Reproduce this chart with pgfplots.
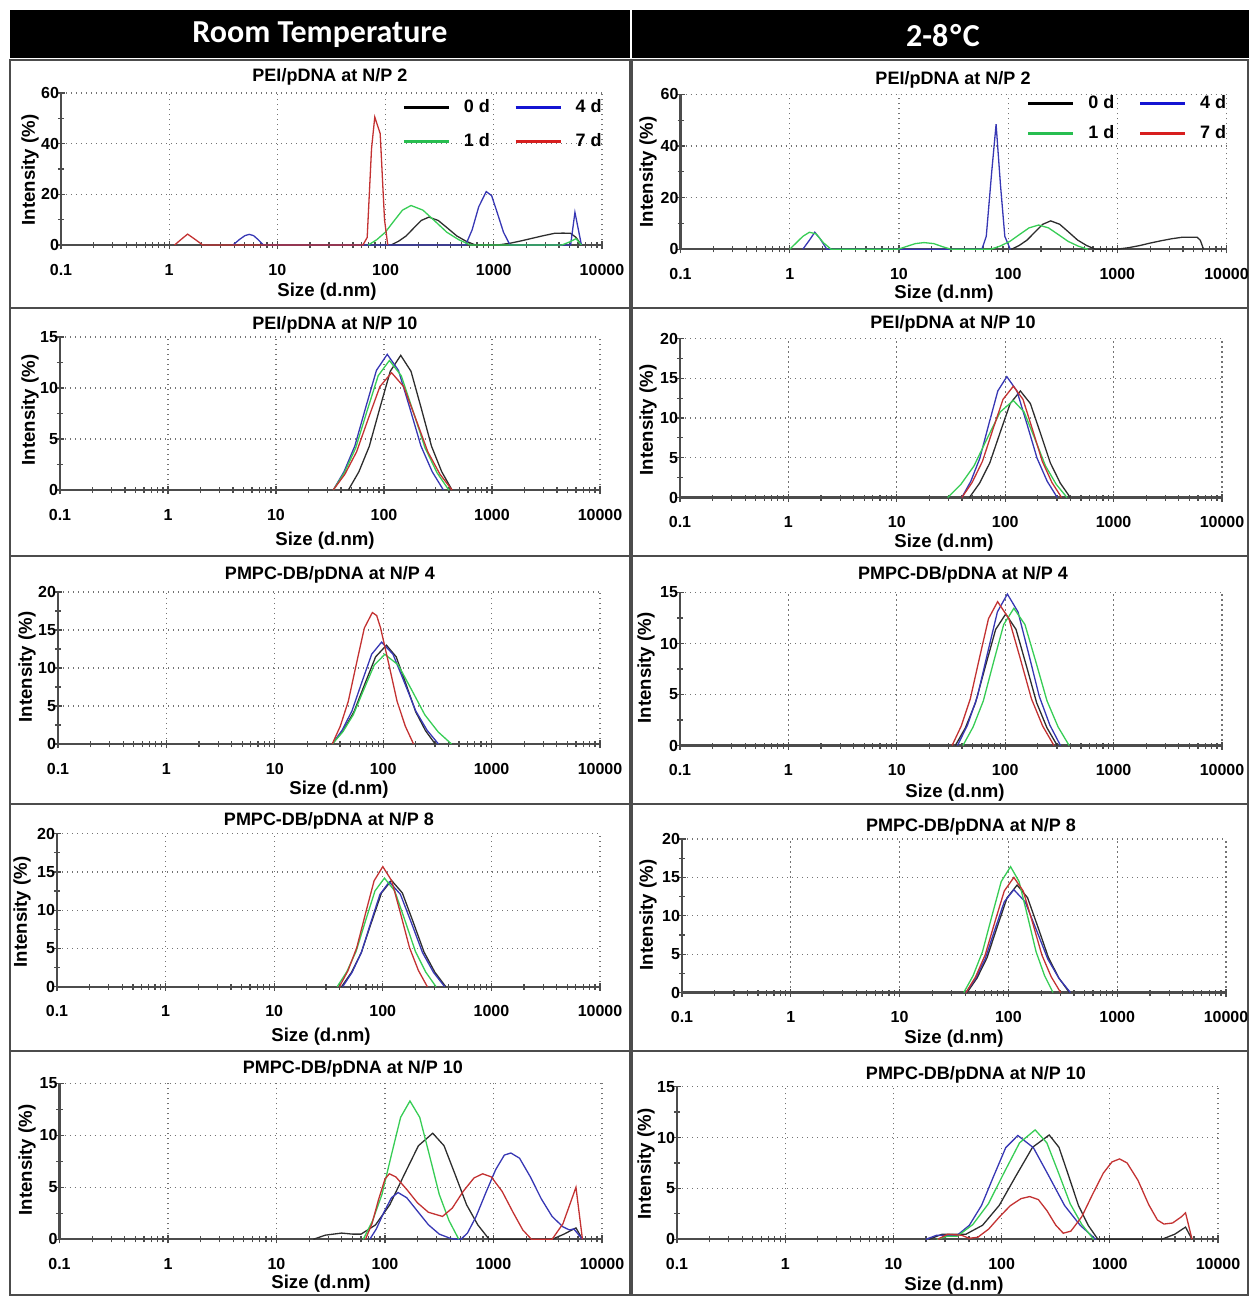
\documentclass[border=0pt]{standalone}
\usepackage{fontspec}
\setmainfont{Liberation Sans}
\newfontfamily\hdrfont{Carlito}
\usepackage{pgfplots}
\pgfplotsset{compat=1.18}
\definecolor{cK}{RGB}{45,45,45}
\definecolor{cB}{RGB}{55,55,180}
\definecolor{cG}{RGB}{55,205,85}
\definecolor{cR}{RGB}{195,50,50}
\definecolor{lB}{RGB}{20,20,210}
\definecolor{lG}{RGB}{40,190,80}
\definecolor{lR}{RGB}{215,30,30}
\pgfplotsset{
 dls/.style={
  scale only axis, anchor=south west,
  axis lines*=left,
  xmin=-1, xmax=4, ymin=0,
  xtick={-1,0,1,2,3,4},
  xticklabels={0.1,1,10,100,1000,10000},
  minor xtick={-0.699,-0.523,-0.398,-0.301,-0.222,-0.155,-0.097,-0.046,
               0.301,0.477,0.602,0.699,0.778,0.845,0.903,0.954,
               1.301,1.477,1.602,1.699,1.778,1.845,1.903,1.954,
               2.301,2.477,2.602,2.699,2.778,2.845,2.903,2.954,
               3.301,3.477,3.602,3.699,3.778,3.845,3.903,3.954},
  minor y tick num=1,
  xmajorgrids, ymajorgrids,
  major grid style={black!55, line width=0.6pt, dash pattern=on 0.6pt off 1.9pt},
  tick align=center,
  major tick length=4pt, minor tick length=3pt,
  axis line style={black!70, line width=1.1pt},
  tick style={black!70, line width=0.6pt},
  ticklabel style={font=\fontsize{8}{9}\selectfont\bfseries},
  /pgf/number format/assume math mode=true,
  xticklabel style={yshift=-4pt},
  yticklabel style={xshift=4.5pt},
  every axis plot/.append style={line width=0.65pt, mark=none},
 },
 dlsleg/.style={
  legend columns=2,
  legend cell align=left,
  legend style={draw=none, fill=none, at={(1,1)}, anchor=north east, xshift=3pt,
    font=\fontsize{9}{10}\selectfont\bfseries, row sep=5pt, inner sep=1pt,
    /tikz/every even column/.append style={column sep=10pt}},
  legend image code/.code={\draw[##1, line width=1.6pt] (0pt,0pt) -- (22.5pt,0pt);
     \path[draw=none] (0pt,0pt) -- (28pt,0pt);},
 },
}
\begin{document}
\begin{tikzpicture}
\useasboundingbox (0pt,0pt) rectangle (624.5pt,-648pt);
% headers
\fill[black] (5pt,-5pt) rectangle (315pt,-29pt);
\fill[black] (316pt,-5pt) rectangle (624.5pt,-29pt);
\node[white, font=\hdrfont\bfseries\fontsize{16}{18}\selectfont] at (160pt,-17.5pt) {Room Temperature};
\node[white, font=\hdrfont\bfseries\fontsize{16}{18}\selectfont] at (471.5pt,-18pt) {2-8\kern1pt°\kern0.8pt C};
% panel frames
\foreach \a/\b in {-30/-154,-154/-278,-278/-402,-402/-525.5,-525.5/-647.5}{
  \draw[black!70, line width=1pt] (5pt,\a pt) rectangle (315pt,\b pt);
  \draw[black!70, line width=1pt] (316pt,\a pt) rectangle (624pt,\b pt);
}

% ===== L1 =====
\begin{axis}[dls, dlsleg, at={(30.5pt,-122.5pt)}, width=270.5pt, height=76pt,
  ymax=60, ytick={0,20,40,60}]
\addlegendimage{black}\addlegendentry{0 d}
\addlegendimage{lB}\addlegendentry{4 d}
\addlegendimage{lG}\addlegendentry{1 d}
\addlegendimage{lR}\addlegendentry{7 d}
\addplot[cK] coordinates {(2.05,0)(2.12,1.49)(2.19,3.58)(2.26,6.68)(2.33,9.70)(2.40,11.0)(2.486,9.70)(2.572,6.68)(2.658,3.58)(2.744,1.49)(2.83,0)(3.04,0)(3.15,0.7)(3.25,1.6)(3.35,2.6)(3.45,3.6)(3.56,4.6)(3.64,4.7)(3.71,4.6)(3.76,3.0)(3.81,0)};
\addplot[cB] coordinates {(0.59,0)(0.65,2.2)(0.70,3.7)(0.74,4.2)(0.78,3.7)(0.82,2.2)(0.87,0)(2.74,0)(2.80,6)(2.86,15)(2.93,21.1)(2.98,19.5)(3.03,13)(3.09,5)(3.15,0)(3.71,0)(3.75,12.9)(3.81,0)};
\addplot[cG] coordinates {(1.84,0)(1.919,2.11)(1.998,5.07)(2.077,9.47)(2.156,13.76)(2.235,15.6)(2.345,13.76)(2.455,9.47)(2.565,5.07)(2.675,2.11)(2.785,0)(3.63,0)(3.70,1.2)(3.76,2.5)(3.81,0)};
\addplot[cR] coordinates {(0.05,0)(0.11,2.2)(0.17,4.3)(0.24,2.2)(0.31,0)(1.79,0)(1.83,3)(1.87,38)(1.90,50.5)(1.95,44)(1.99,10)(2.02,0)};
\end{axis}

% ===== R1 =====
\begin{axis}[dls, dlsleg, at={(340.25pt,-124.65pt)}, width=273pt, height=77.5pt,
  ymax=60, ytick={0,20,40,60}, legend style={yshift=2.5pt, row sep=3pt}]
\addlegendimage{black}\addlegendentry{0 d}
\addlegendimage{lB}\addlegendentry{4 d}
\addlegendimage{lG}\addlegendentry{1 d}
\addlegendimage{lR}\addlegendentry{7 d}
\addplot[cK] coordinates {(2.03,0)(2.102,1.49)(2.174,3.58)(2.246,6.68)(2.318,9.70)(2.39,11.0)(2.472,9.70)(2.554,6.68)(2.636,3.58)(2.718,1.49)(2.80,0)(2.99,0)(3.1,0.6)(3.2,1.4)(3.3,2.4)(3.4,3.3)(3.5,4.1)(3.6,4.7)(3.73,4.7)(3.76,3.5)(3.79,0)};
\addplot[cB] coordinates {(0.12,0)(0.18,3.5)(0.23,6.6)(0.28,4)(0.34,0)(1.76,0)(1.80,5)(1.85,30)(1.89,48.4)(1.93,25)(1.97,5)(2.02,0)};
\addplot[cG] coordinates {(0.0,0)(0.06,2.5)(0.12,5)(0.18,6.6)(0.24,6)(0.31,2.5)(0.38,0)(0.99,0)(1.07,1.1)(1.15,2.2)(1.23,2.6)(1.32,2.2)(1.40,1.0)(1.48,0)(1.84,0)(1.928,1.27)(2.016,3.06)(2.104,5.71)(2.192,8.29)(2.28,9.4)(2.37,8.29)(2.46,5.71)(2.55,3.06)(2.64,1.27)(2.73,0)};
\end{axis}

% ===== L2 =====
\begin{axis}[dls, at={(30pt,-245pt)}, width=270pt, height=76.5pt,
  ymax=15, ytick={0,5,10,15}]
\addplot[cK] coordinates {(1.67,0)(1.767,1.78)(1.864,4.29)(1.961,8.01)(2.058,11.64)(2.155,13.2)(2.25,11.64)(2.345,8.01)(2.44,4.29)(2.535,1.78)(2.63,0)};
\addplot[cB] coordinates {(1.53,0)(1.63,1.80)(1.73,4.32)(1.83,8.07)(1.93,11.73)(2.03,13.3)(2.134,11.73)(2.238,8.07)(2.342,4.32)(2.446,1.80)(2.55,0)};
\addplot[cG] coordinates {(1.53,0)(1.634,1.71)(1.738,4.13)(1.842,7.71)(1.946,11.20)(2.05,12.7)(2.16,11.20)(2.27,7.71)(2.38,4.13)(2.49,1.71)(2.60,0)};
\addplot[cR] coordinates {(1.53,0)(1.638,1.55)(1.746,3.74)(1.854,6.98)(1.962,10.14)(2.07,11.5)(2.182,10.14)(2.294,6.98)(2.406,3.74)(2.518,1.55)(2.63,0)};
\end{axis}

% ===== R2 =====
\begin{axis}[dls, at={(340pt,-248.75pt)}, width=271pt, height=79.5pt,
  ymax=20, ytick={0,5,10,15,20}]
\addplot[cK] coordinates {(1.67,0)(1.764,1.81)(1.858,4.36)(1.952,8.13)(2.046,11.82)(2.14,13.4)(2.232,11.82)(2.324,8.13)(2.416,4.36)(2.508,1.81)(2.60,0)};
\addplot[cB] coordinates {(1.60,0)(1.683,2.05)(1.766,4.94)(1.849,9.23)(1.932,13.41)(2.015,15.2)(2.108,13.41)(2.201,9.23)(2.294,4.94)(2.387,2.05)(2.48,0)};
\addplot[cG] coordinates {(1.47,0)(1.591,1.65)(1.712,3.97)(1.833,7.41)(1.954,10.76)(2.075,12.2)(2.174,10.76)(2.273,7.41)(2.372,3.97)(2.471,1.65)(2.57,0)};
\addplot[cR] coordinates {(1.60,0)(1.695,1.89)(1.79,4.55)(1.885,8.50)(1.98,12.35)(2.075,14.0)(2.164,12.35)(2.253,8.50)(2.342,4.55)(2.431,1.89)(2.52,0)};
\end{axis}

% ===== L3 =====
\begin{axis}[dls, at={(29pt,-372pt)}, width=271pt, height=76pt,
  ymax=20, ytick={0,5,10,15,20}]
\addplot[cK] coordinates {(1.53,0)(1.63,1.76)(1.73,4.23)(1.83,7.89)(1.93,11.47)(2.03,13.0)(2.12,11.47)(2.21,7.89)(2.30,4.23)(2.39,1.76)(2.48,0)};
\addplot[cB] coordinates {(1.53,0)(1.621,1.81)(1.712,4.36)(1.803,8.13)(1.894,11.82)(1.985,13.4)(2.09,11.82)(2.195,8.13)(2.30,4.36)(2.405,1.81)(2.51,0)};
\addplot[cG] coordinates {(1.53,0)(1.627,1.59)(1.724,3.84)(1.821,7.16)(1.918,10.41)(2.015,11.8)(2.138,10.41)(2.261,7.16)(2.384,3.84)(2.507,1.59)(2.63,0)};
\addplot[cR] coordinates {(1.53,0)(1.604,2.34)(1.678,5.62)(1.752,10.50)(1.826,15.26)(1.90,17.3)(1.94,16.9)(1.976,15.26)(2.052,10.50)(2.128,5.62)(2.204,2.34)(2.28,0)};
\end{axis}

% ===== R3 =====
\begin{axis}[dls, at={(340pt,-372.75pt)}, width=271pt, height=76.5pt,
  ymax=15, ytick={0,5,10,15}]
\addplot[cK] coordinates {(1.54,0)(1.633,1.74)(1.726,4.19)(1.819,7.83)(1.912,11.38)(2.005,12.9)(2.10,11.38)(2.195,7.83)(2.29,4.19)(2.385,1.74)(2.48,0)};
\addplot[cB] coordinates {(1.56,0)(1.652,2.00)(1.744,4.83)(1.836,9.01)(1.928,13.10)(2.02,14.85)(2.118,13.10)(2.216,9.01)(2.314,4.83)(2.412,2.00)(2.51,0)};
\addplot[cG] coordinates {(1.61,0)(1.704,1.82)(1.798,4.37)(1.892,8.16)(1.986,11.86)(2.08,13.45)(2.182,11.86)(2.284,8.16)(2.386,4.37)(2.488,1.82)(2.59,0)};
\addplot[cR] coordinates {(1.51,0)(1.594,1.90)(1.678,4.58)(1.762,8.56)(1.846,12.44)(1.93,14.1)(2.034,12.44)(2.138,8.56)(2.242,4.58)(2.346,1.90)(2.45,0)};
\end{axis}

% ===== L4 =====
\begin{axis}[dls, at={(28.5pt,-493.35pt)}, width=271.5pt, height=76.5pt,
  ymax=20, ytick={0,5,10,15,20}]
\addplot[cK] coordinates {(1.62,0)(1.712,1.88)(1.804,4.52)(1.896,8.44)(1.988,12.26)(2.08,13.9)(2.18,12.26)(2.28,8.44)(2.38,4.52)(2.48,1.88)(2.58,0)};
\addplot[cB] coordinates {(1.63,0)(1.716,1.85)(1.802,4.45)(1.888,8.32)(1.974,12.08)(2.06,13.7)(2.162,12.08)(2.264,8.32)(2.366,4.45)(2.468,1.85)(2.57,0)};
\addplot[cG] coordinates {(1.58,0)(1.667,1.92)(1.754,4.62)(1.841,8.62)(1.928,12.52)(2.015,14.2)(2.11,12.52)(2.205,8.62)(2.30,4.62)(2.395,1.92)(2.49,0)};
\addplot[cR] coordinates {(1.60,0)(1.68,2.12)(1.76,5.10)(1.84,9.53)(1.92,13.85)(2.00,15.7)(2.082,13.85)(2.164,9.53)(2.246,5.10)(2.328,2.12)(2.41,0)};
\end{axis}

% ===== R4 =====
\begin{axis}[dls, at={(341pt,-496.25pt)}, width=272pt, height=76.75pt,
  ymax=20, ytick={0,5,10,15,20}]
\addplot[cK] coordinates {(1.62,0)(1.712,1.89)(1.804,4.55)(1.896,8.50)(1.988,12.35)(2.08,14.0)(2.176,12.35)(2.272,8.50)(2.368,4.55)(2.464,1.89)(2.56,0)};
\addplot[cB] coordinates {(1.61,0)(1.698,1.81)(1.786,4.36)(1.874,8.13)(1.962,11.82)(2.05,13.4)(2.154,11.82)(2.258,8.13)(2.362,4.36)(2.466,1.81)(2.57,0)};
\addplot[cG] coordinates {(1.59,0)(1.676,2.21)(1.762,5.33)(1.848,9.95)(1.934,14.46)(2.02,16.4)(2.098,14.46)(2.176,9.95)(2.254,5.33)(2.332,2.21)(2.41,0)};
\addplot[cR] coordinates {(1.61,0)(1.698,2.03)(1.786,4.88)(1.874,9.11)(1.962,13.23)(2.05,15.0)(2.136,13.23)(2.222,9.11)(2.308,4.88)(2.394,2.03)(2.48,0)};
\end{axis}

% ===== L5 =====
\begin{axis}[dls, at={(29.75pt,-619.65pt)}, width=271.25pt, height=78pt,
  ymax=15, ytick={0,5,10,15}]
\addplot[cK] coordinates {(1.34,0)(1.45,0.4)(1.60,0.6)(1.70,0.5)(1.78,0.5)(1.912,1.38)(2.044,3.32)(2.176,6.19)(2.308,9.0)(2.44,10.2)(2.544,9.0)(2.648,6.19)(2.752,3.32)(2.856,1.38)(2.96,0)(3.54,0)(3.65,0.5)(3.76,1.1)(3.82,0)};
\addplot[cB] coordinates {(1.86,0)(1.92,1.0)(1.99,2.6)(2.06,4.0)(2.12,4.5)(2.20,4.0)(2.30,2.7)(2.40,1.4)(2.50,0.5)(2.60,0.1)(2.66,0)(2.70,0)(2.76,0.6)(2.84,2.2)(2.93,4.5)(3.02,6.7)(3.10,8.1)(3.16,8.3)(3.24,7.8)(3.34,6.0)(3.44,3.9)(3.54,2.2)(3.64,1.2)(3.70,0.9)(3.74,1.0)(3.82,0)};
\addplot[cG] coordinates {(1.80,0)(1.886,1.80)(1.972,4.32)(2.058,8.07)(2.144,11.73)(2.23,13.3)(2.32,11.73)(2.41,8.07)(2.50,4.32)(2.59,1.80)(2.68,0)};
\addplot[cR] coordinates {(1.82,0)(1.88,1.5)(1.94,3.8)(2.00,5.8)(2.04,6.3)(2.10,6.0)(2.20,4.8)(2.30,3.5)(2.40,2.6)(2.53,2.2)(2.62,3.0)(2.72,4.6)(2.82,5.9)(2.90,6.3)(2.98,6.0)(3.08,4.6)(3.18,2.6)(3.27,0.9)(3.35,0)(3.54,0)(3.64,1.5)(3.76,5.0)(3.82,0)};
\end{axis}

% ===== R5 =====
\begin{axis}[dls, at={(338.5pt,-619.65pt)}, width=270.5pt, height=76.35pt,
  ymax=15, ytick={0,5,10,15}]
\addplot[cK] coordinates {(1.33,0)(1.45,0.5)(1.60,0.5)(1.67,0.5)(1.824,1.38)(1.978,3.33)(2.132,6.22)(2.286,9.04)(2.44,10.25)(2.53,9.04)(2.62,6.22)(2.71,3.33)(2.80,1.38)(2.89,0)(3.48,0)(3.60,0.5)(3.70,1.2)(3.76,0)};
\addplot[cB] coordinates {(1.30,0)(1.40,0.4)(1.59,0.4)(1.702,1.38)(1.814,3.32)(1.926,6.19)(2.038,9.0)(2.15,10.2)(2.294,9.0)(2.438,6.19)(2.582,3.32)(2.726,1.38)(2.87,0)};
\addplot[cG] coordinates {(1.40,0)(1.50,0.3)(1.59,0.3)(1.734,1.45)(1.878,3.49)(2.022,6.53)(2.166,9.48)(2.31,10.75)(2.418,9.48)(2.526,6.53)(2.634,3.49)(2.742,1.45)(2.85,0)};
\addplot[cR] coordinates {(1.41,0)(1.50,0.5)(1.63,0.4)(1.70,0.1)(1.78,0.2)(1.88,1.0)(1.98,2.2)(2.08,3.3)(2.18,4.0)(2.26,4.2)(2.34,3.9)(2.42,2.8)(2.50,1.4)(2.57,0.6)(2.64,0.8)(2.74,2.2)(2.84,4.4)(2.94,6.5)(3.02,7.6)(3.09,7.9)(3.16,7.5)(3.26,5.8)(3.36,3.4)(3.44,1.9)(3.50,1.5)(3.58,1.6)(3.66,2.2)(3.70,2.6)(3.76,0)};
\end{axis}

% titles
\begin{scope}[every node/.style={font=\fontsize{9}{10}\selectfont\bfseries}]
\node at (165pt,-38.5pt) {PEI/pDNA at N/P 2};
\node at (476.5pt,-40pt) {PEI/pDNA at N/P 2};
\node at (167.5pt,-162.5pt) {PEI/pDNA at N/P 10};
\node at (476.5pt,-162pt) {PEI/pDNA at N/P 10};
\node at (165pt,-287.5pt) {PMPC-DB/pDNA at N/P 4};
\node at (481.5pt,-287.5pt) {PMPC-DB/pDNA at N/P 4};
\node at (164.5pt,-410.5pt) {PMPC-DB/pDNA at N/P 8};
\node at (485.5pt,-413.5pt) {PMPC-DB/pDNA at N/P 8};
\node at (176.5pt,-534.5pt) {PMPC-DB/pDNA at N/P 10};
\node at (488pt,-537.5pt) {PMPC-DB/pDNA at N/P 10};
\end{scope}
% x labels
\begin{scope}[every node/.style={font=\fontsize{9.3}{10}\selectfont\bfseries}]
\node at (163.5pt,-146pt) {Size (d.nm)};
\node at (472pt,-147pt) {Size (d.nm)};
\node at (162.5pt,-270.5pt) {Size (d.nm)};
\node at (472pt,-271.5pt) {Size (d.nm)};
\node at (169.5pt,-395pt) {Size (d.nm)};
\node at (477.5pt,-396.5pt) {Size (d.nm)};
\node at (160.5pt,-518.5pt) {Size (d.nm)};
\node at (477pt,-519.5pt) {Size (d.nm)};
\node at (160.5pt,-642pt) {Size (d.nm)};
\node at (477pt,-643pt) {Size (d.nm)};
\end{scope}
% y labels
\begin{scope}[every node/.style={font=\fontsize{9.3}{10}\selectfont\bfseries, rotate=90}]
\node at (15pt,-85pt) {Intensity (\%)};
\node at (324pt,-86pt) {Intensity (\%)};
\node at (15pt,-205pt) {Intensity (\%)};
\node at (324pt,-210pt) {Intensity (\%)};
\node at (13.5pt,-333.5pt) {Intensity (\%)};
\node at (323pt,-334pt) {Intensity (\%)};
\node at (11pt,-456pt) {Intensity (\%)};
\node at (324pt,-457.5pt) {Intensity (\%)};
\node at (13.5pt,-580pt) {Intensity (\%)};
\node at (323pt,-582pt) {Intensity (\%)};
\end{scope}
\end{tikzpicture}
\end{document}
